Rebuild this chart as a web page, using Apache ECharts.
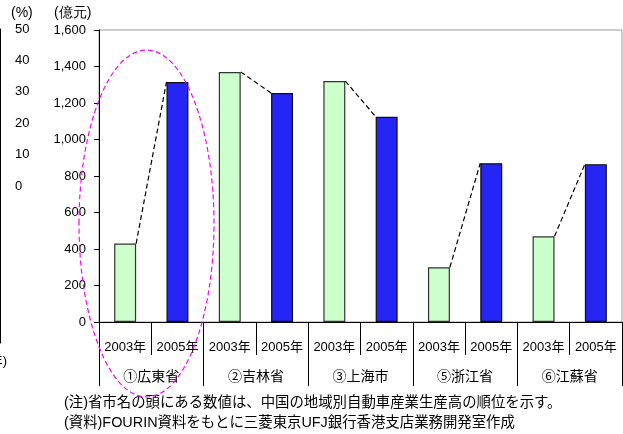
<!DOCTYPE html>
<html>
<head>
<meta charset="utf-8">
<script src="https://cdn.jsdelivr.net/npm/echarts@6/dist/echarts.min.js"></script>
<style>
html,body{margin:0;padding:0;background:#fff;}
#chart{width:623px;height:434px;}
</style>
</head>
<body>
<div id="chart"></div>
<script>
// ---- data ----
var provinces = ['①広東省', '②吉林省', '③上海市', '⑤浙江省', '⑥江蘇省'];
var years = ['2003年', '2005年'];
var values2003 = [430, 1370, 1320, 300, 470];
var values2005 = [1315, 1255, 1125, 870, 865];
var yTicks = [0, 200, 400, 600, 800, 1000, 1200, 1400, 1600];
var pctTicks = [-50, -40, -30, -20, -10, 0, 10, 20, 30, 40, 50];
var note1 = '(注)省市名の頭にある数値は、中国の地域別自動車産業生産高の順位を示す。';
var note2 = '(資料)FOURIN資料をもとに三菱東京UFJ銀行香港支店業務開発室作成';

var FONT = '"Liberation Sans", Arial, "Noto Sans CJK JP", sans-serif';
var BAR_RATIO = 0.42;

var categories = [];
var barData = [];
var linkData = [];
provinces.forEach(function (p, i) {
  categories.push(years[0], years[1]);
  barData.push({ value: values2003[i], itemStyle: { color: '#CCFFCC', borderColor: '#333333', borderWidth: 1.2 } });
  barData.push({ value: values2005[i], itemStyle: { color: '#2525F5', borderColor: '#111111', borderWidth: 1.2 } });
  linkData.push([2 * i, values2003[i], 2 * i + 1, values2005[i]]);
});

var chart = echarts.init(document.getElementById('chart'), null, { renderer: 'canvas' });

var option = {
  backgroundColor: '#ffffff',
  animation: false,
  textStyle: { fontFamily: FONT },
  grid: [
    { left: 99, right: 1, top: 30, bottom: 112, show: true, borderColor: '#999999', borderWidth: 1, backgroundColor: 'transparent', containLabel: false, outerBoundsMode: 'none' },
    { left: 0, width: 3, top: 29, height: 314, show: false, containLabel: false, outerBoundsMode: 'none' }
  ],
  xAxis: [
    {
      type: 'category', gridIndex: 0, position: 'bottom', data: categories,
      axisLine: { show: true, lineStyle: { color: '#000', width: 1 } },
      axisTick: { show: true, interval: 0, length: 33, lineStyle: { color: '#000', width: 1 } },
      axisLabel: { interval: 0, margin: 19, fontSize: 13, color: '#000', fontFamily: FONT },
      splitLine: { show: false }
    },
    {
      type: 'category', gridIndex: 0, position: 'bottom', data: provinces,
      axisLine: { show: false },
      axisTick: { show: true, interval: 0, length: 64, lineStyle: { color: '#000', width: 1 } },
      axisLabel: { interval: 0, margin: 48, fontSize: 14, color: '#000', fontFamily: FONT },
      splitLine: { show: false }
    },
    { type: 'value', gridIndex: 1, show: false }
  ],
  yAxis: [
    {
      type: 'value', gridIndex: 0, min: yTicks[0], max: yTicks[yTicks.length - 1], interval: yTicks[1] - yTicks[0],
      axisLine: { show: true, lineStyle: { color: '#000', width: 1 } },
      axisTick: { show: true, length: 5, lineStyle: { color: '#000' } },
      axisLabel: {
        margin: 13, fontSize: 13, color: '#000', fontFamily: FONT,
        formatter: function (v) { return v.toString().replace(/\B(?=(\d{3})+(?!\d))/g, ','); }
      },
      splitLine: { show: false }
    },
    {
      type: 'value', gridIndex: 1, position: 'right',
      min: pctTicks[0], max: pctTicks[pctTicks.length - 1], interval: pctTicks[1] - pctTicks[0],
      axisLine: { show: true, lineStyle: { color: '#000', width: 1 } },
      axisTick: { show: true, inside: true, length: 4, lineStyle: { color: '#000' } },
      axisLabel: {
        margin: 12, fontSize: 13, color: '#000', fontFamily: FONT, align: 'left',
        formatter: function (v) { return v >= 0 ? String(v) : ''; }
      },
      splitLine: { show: false }
    }
  ],
  series: [
    {
      type: 'bar', xAxisIndex: 0, yAxisIndex: 0,
      data: barData, barWidth: (BAR_RATIO * 100) + '%'
    },
    {
      type: 'custom', xAxisIndex: 0, yAxisIndex: 0,
      data: linkData,
      encode: { x: [0, 2], y: [1, 3] },
      z: 5,
      renderItem: function (params, api) {
        var p1 = api.coord([api.value(0), api.value(1)]);
        var p2 = api.coord([api.value(2), api.value(3)]);
        var half = api.size([1, 0])[0] * BAR_RATIO / 2;
        return {
          type: 'line',
          shape: { x1: p1[0] + half, y1: p1[1], x2: p2[0] - half, y2: p2[1] },
          style: { stroke: '#000', lineWidth: 1.2, lineDash: [5, 3], fill: null }
        };
      }
    }
  ],
  graphic: [
    { type: 'text', left: 11, top: 6, style: { text: '(%)', fontSize: 14, fill: '#000', font: '14px ' + FONT } },
    { type: 'text', left: 54, top: 6, style: { text: '(億元)', fontSize: 14, fill: '#000', font: '14px ' + FONT } },
    { type: 'text', x: 7, y: 361, style: { text: '年)', textAlign: 'right', textVerticalAlign: 'middle', font: '13px ' + FONT, fill: '#000' } },
    { type: 'text', x: 64, y: 403, style: { text: note1, textVerticalAlign: 'middle', font: '14.4px ' + FONT, fill: '#000' } },
    { type: 'text', x: 64, y: 423, style: { text: note2, textVerticalAlign: 'middle', font: '14.4px ' + FONT, fill: '#000' } },
    {
      type: 'ellipse', z: 100,
      shape: { cx: 146.5, cy: 223.5, rx: 67.5, ry: 173.5 },
      style: { fill: null, stroke: '#FF00FF', lineWidth: 1.2, lineDash: [5, 3] }
    }
  ]
};

chart.setOption(option);
</script>
</body>
</html>
